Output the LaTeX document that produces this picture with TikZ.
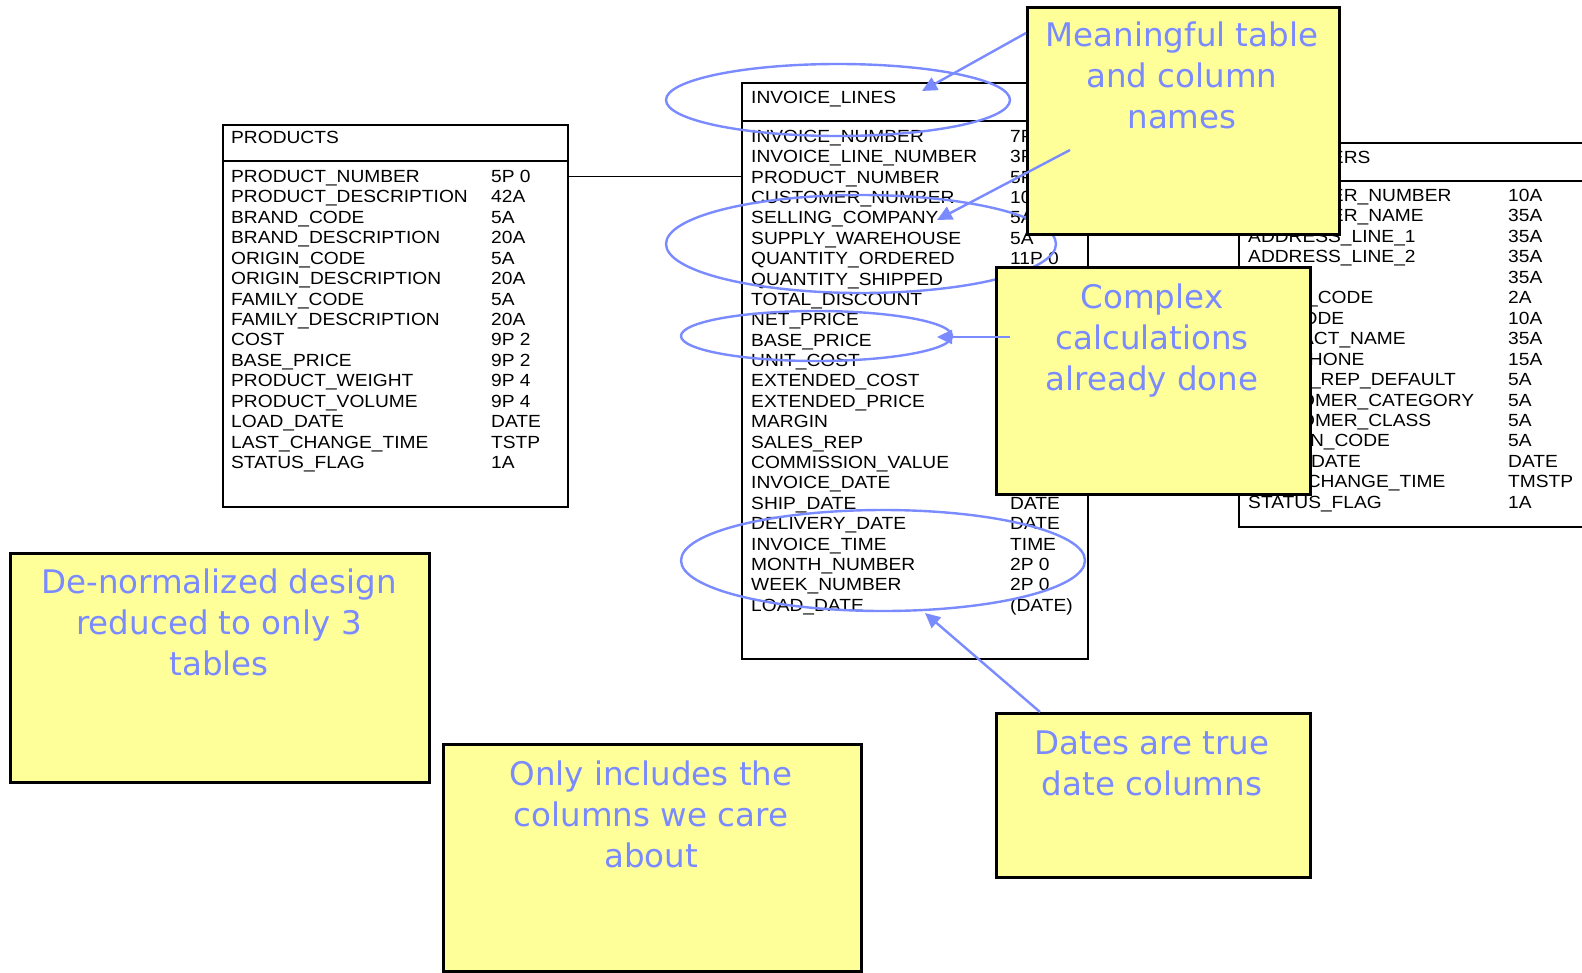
\documentclass[tikz,border=0pt]{standalone}
\usepackage{fontspec}
\usetikzlibrary{arrows.meta}
\newfontfamily\tabfont[FakeStretch=1.09]{Liberation Sans}
\newfontfamily\notefont{DejaVu Sans}
\definecolor{noteblue}{RGB}{122,138,255}
\definecolor{noteyellow}{RGB}{255,255,153}

\begin{document}
\begin{tikzpicture}[x=1pt,y=-1pt,
  tableframe/.style={draw=black, line width=1.5pt, fill=white, inner sep=0pt, anchor=north west},
  cell/.style={anchor=west, inner sep=0pt, text height=12.6pt, text depth=0pt,
    font=\tabfont\fontsize{17.6}{20}\selectfont},
  notebox/.style={draw=black, line width=2.6pt, fill=noteyellow, inner sep=0pt, anchor=north west},
  notetext/.style={anchor=base, inner sep=0pt, text=noteblue,
    font=\notefont\fontsize{32.5}{41}\selectfont},
  hilite/.style={draw=noteblue, line width=2.4pt},
  pointer/.style={draw=noteblue, line width=2.4pt, -{Triangle[length=15pt,width=14pt]}},
  link/.style={draw=black, line width=1pt}
]
\useasboundingbox (0,0) rectangle (1582,972);

% ---------- PRODUCTS ----------
\node[tableframe, minimum width=345pt, minimum height=382pt] (products) at (222,124) {};
\draw[line width=1.5pt] (222,161) -- (567,161);
\node[cell] (p-title) at (231,137) {PRODUCTS};
\foreach \nm/\ty [count=\i from 0] in {
  PRODUCT\_NUMBER/5P 0, PRODUCT\_DESCRIPTION/42A, BRAND\_CODE/5A,
  BRAND\_DESCRIPTION/20A, ORIGIN\_CODE/5A, ORIGIN\_DESCRIPTION/20A,
  FAMILY\_CODE/5A, FAMILY\_DESCRIPTION/20A, COST/9P 2, BASE\_PRICE/9P 2,
  PRODUCT\_WEIGHT/9P 4, PRODUCT\_VOLUME/9P 4, LOAD\_DATE/DATE,
  LAST\_CHANGE\_TIME/TSTP, STATUS\_FLAG/1A} {
  \node[cell] (p-name-\i) at (231,{176+20.45*\i}) {\nm};
  \node[cell] (p-type-\i) at (491,{176+20.45*\i}) {\ty};
}

% ---------- INVOICE_LINES ----------
\node[tableframe, minimum width=346pt, minimum height=576pt] (invoice) at (741,82) {};
\draw[line width=1.5pt] (741,121) -- (1087,121);
\node[cell] (i-title) at (751,97) {INVOICE\_LINES};
\foreach \nm [count=\i from 0] in {
  INVOICE\_NUMBER, INVOICE\_LINE\_NUMBER, PRODUCT\_NUMBER, CUSTOMER\_NUMBER,
  SELLING\_COMPANY, SUPPLY\_WAREHOUSE, QUANTITY\_ORDERED, QUANTITY\_SHIPPED,
  TOTAL\_DISCOUNT, NET\_PRICE, BASE\_PRICE, UNIT\_COST, EXTENDED\_COST,
  EXTENDED\_PRICE, MARGIN, SALES\_REP, COMMISSION\_VALUE, INVOICE\_DATE,
  SHIP\_DATE, DELIVERY\_DATE, INVOICE\_TIME, MONTH\_NUMBER, WEEK\_NUMBER,
  LOAD\_DATE} {
  \node[cell] (i-name-\i) at (751,{136+20.39*\i}) {\nm};
}
\foreach \ty/\i in {7P 0/0, 3P 0/1, 5P 0/2, 10A/3, 5A/4, 5A/5, 11P 0/6,
  DATE/18, DATE/19, TIME/20, 2P 0/21, 2P 0/22, (DATE)/23} {
  \node[cell] (i-type-\i) at (1010,{136+20.39*\i}) {\ty};
}

% ---------- CUSTOMERS ----------
\node[tableframe, minimum width=400pt, minimum height=384pt] (customers) at (1238,142) {};
\draw[line width=1.5pt] (1238,181) -- (1638,181);
\node[cell] (c-title) at (1248,157) {CUSTOMERS};
\foreach \nm/\ty [count=\i from 0] in {
  CUSTOMER\_NUMBER/10A, CUSTOMER\_NAME/35A, ADDRESS\_LINE\_1/35A,
  ADDRESS\_LINE\_2/35A, CITY/35A, STATE\_CODE/2A, ZIP\_CODE/10A,
  CONTACT\_NAME/35A, TELEPHONE/15A, SALES\_REP\_DEFAULT/5A,
  CUSTOMER\_CATEGORY/5A, CUSTOMER\_CLASS/5A, REGION\_CODE/5A,
  LOAD\_DATE/DATE, LAST\_CHANGE\_TIME/TMSTP, STATUS\_FLAG/1A} {
  \node[cell] (c-name-\i) at (1248,{195+20.47*\i}) {\nm};
  \node[cell] (c-type-\i) at (1508,{195+20.47*\i}) {\ty};
}

% product number link between the two tables
\draw[link] (p-name-0 -| products.east) -- (p-name-0 -| invoice.west);

% ---------- highlighted column groups ----------
\draw[hilite] (838,100) ellipse [x radius=172, y radius=36];
\draw[hilite] (861,244) ellipse [x radius=195, y radius=49];
\draw[hilite] (816.5,336) ellipse [x radius=135.5, y radius=25];
\draw[hilite] (883,560.5) ellipse [x radius=202, y radius=50.5];

% ---------- notes ----------
\node[notebox, minimum width=312pt, minimum height=227pt] (meaningful) at (1026,6) {};
\node[notebox, minimum width=314pt, minimum height=227pt] (complex) at (995,266) {};
\node[notebox, minimum width=419pt, minimum height=229pt] (denorm) at (9,552) {};
\node[notebox, minimum width=418pt, minimum height=227pt] (onlycols) at (442,743) {};
\node[notebox, minimum width=314pt, minimum height=164pt] (dates) at (995,712) {};

\node[notetext] (meaningful-txt) at (1182,46)
  {\begin{tabular}[t]{@{}c@{}}Meaningful table\\and column\\names\end{tabular}};
\node[notetext] (complex-txt) at (1152,308)
  {\begin{tabular}[t]{@{}c@{}}Complex\\calculations\\already done\end{tabular}};
\node[notetext] (denorm-txt) at (219,593)
  {\begin{tabular}[t]{@{}c@{}}De-normalized design\\reduced to only 3\\tables\end{tabular}};
\node[notetext] (onlycols-txt) at (651,785)
  {\begin{tabular}[t]{@{}c@{}}Only includes the\\columns we care\\about\end{tabular}};
\node[notetext] (dates-txt) at (1152,754)
  {\begin{tabular}[t]{@{}c@{}}Dates are true\\date columns\end{tabular}};

% ---------- pointers ----------
\coordinate (from-title) at (1026,33);
\coordinate (from-names) at (1070,150);
\coordinate (from-calc) at (1010,337);
\coordinate (from-dates) at (1040,712);
\coordinate (tip-title) at (922,91);
\coordinate (tip-names) at (937,220);
\coordinate (tip-calc) at (937,337);
\coordinate (tip-dates) at (925,613);

\draw[pointer] (from-title) -- (tip-title);
\draw[pointer] (from-names) -- (tip-names);
\draw[pointer] (from-calc) -- (tip-calc);
\draw[pointer] (from-dates) -- (tip-dates);
\end{tikzpicture}
\end{document}
